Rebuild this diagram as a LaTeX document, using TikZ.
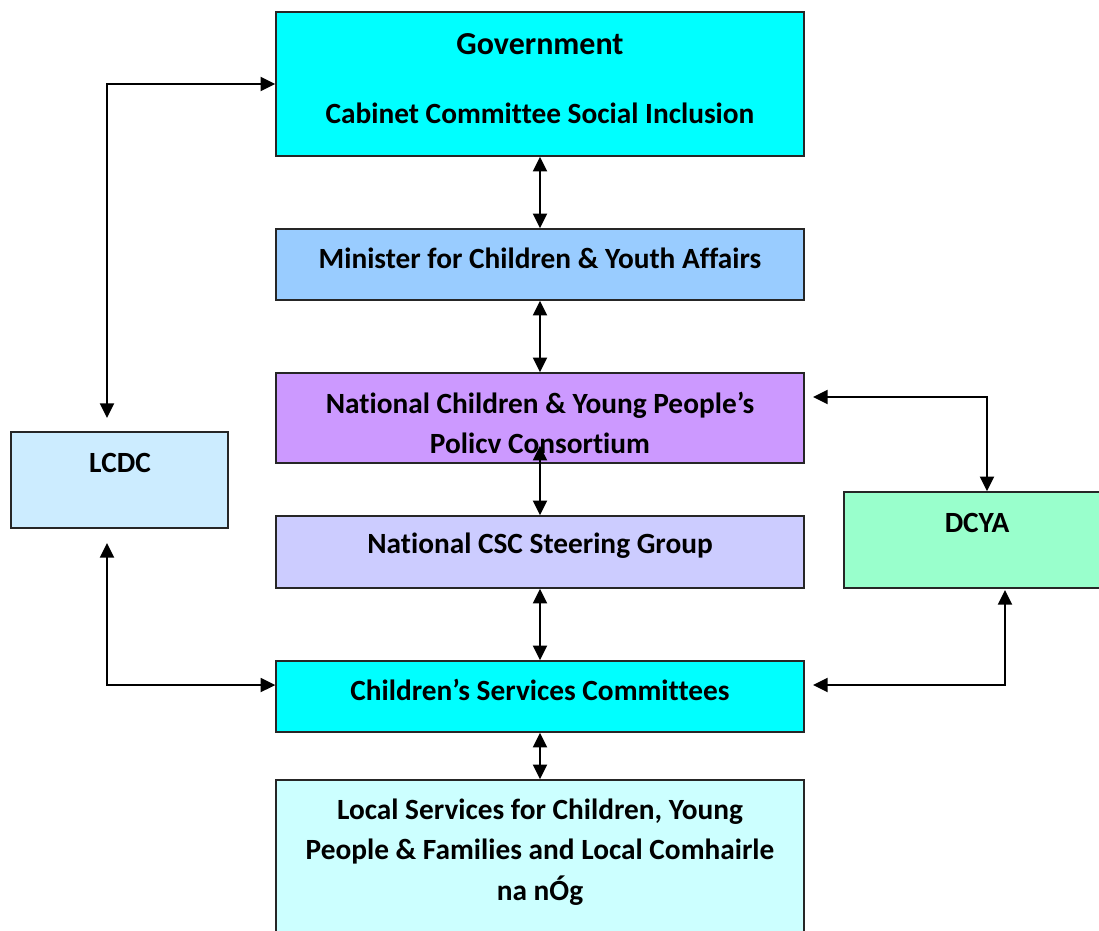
\documentclass[tikz,border=0pt]{standalone}
\usepackage{fontspec}
\setmainfont{Carlito}[Ligatures=NoCommon]
\usetikzlibrary{arrows.meta}
\definecolor{govcyan}{HTML}{00FFFF}
\definecolor{minblue}{HTML}{99CCFF}
\definecolor{ncyplilac}{HTML}{CC99FF}
\definecolor{cscviolet}{HTML}{CCCCFF}
\definecolor{localcyan}{HTML}{CCFFFF}
\definecolor{lcdcblue}{HTML}{CCECFF}
\definecolor{dcyagreen}{HTML}{99FFCC}
\tikzset{
  box/.style={draw=black!85,line width=1.1pt,inner sep=0pt,minimum width=396pt},
  lbl/.style={font=\fontsize{22}{30.5}\selectfont\bfseries,align=center,inner sep=0pt},
  dbl/.style={line width=1.5pt,{Triangle[length=11pt,width=10.5pt]}-{Triangle[length=11pt,width=10.5pt]}}
}
\begin{document}
\begin{tikzpicture}[x=0.75pt,y=-0.75pt,line join=miter]
            \clip (0,0) rectangle (1099,931);
            \useasboundingbox (0,0) rectangle (1099,931);
            \node[box,fill=govcyan,minimum height=108pt] (gov) at (540,84) {};
            \node[box,fill=minblue,minimum height=53.25pt] (min) at (540,264.5) {};
            \node[box,fill=ncyplilac,minimum height=67.5pt] (ncyp) at (540,418) {};
            \node[box,fill=cscviolet,minimum height=54pt] (csc) at (540,552) {};
            \node[box,fill=govcyan,minimum height=53.25pt] (cscom) at (540,696.5) {};
            \node[box,fill=localcyan,minimum height=135pt] (local) at (540,870) {};
            \node[box,fill=lcdcblue,minimum width=162.75pt,minimum height=72pt] (lcdc) at (119.5,480) {};
            \node[box,fill=dcyagreen,minimum width=214.5pt,minimum height=72pt] (dcya) at (987,540) {};
            \node[lbl,font=\fontsize{24}{30}\selectfont\bfseries] (govtxt) at (540,44) {Government};
            \node[lbl] (cabtxt) at (540,113) {Cabinet Committee Social Inclusion};
            \node[lbl] (mintxt) at (540,258) {Minister for Children \& Youth Affairs};
            \node[lbl] (ncyptxt) at (540,423) {National Children \& Young People’s\\Policv Consortium};
            \node[lbl] (csctxt) at (540,546) {National CSC Steering Group};
            \node[lbl] (cscomtxt) at (540,690) {Children’s Services Committees};
            \node[lbl] (localtxt) at (540,852) {Local Services for Children, Young\\People \& Families and Local Comhairle\\na nÓg};
            \node[lbl] (lcdctxt) at (120,463) {LCDC};
            \node[lbl] (dcyatxt) at (977,523) {DCYA};
            \coordinate (lcdctop) at (107,418);
            \coordinate (lcdcbot) at (107,543);
            \coordinate (ncypright) at (813,397);
            \coordinate (cscomright) at (813,685);
            \coordinate (dcyabot) at (1005,590);
            \draw[dbl] (gov.south) -- (min.north);
            \draw[dbl] (min.south) -- (ncyp.north);
            \draw[dbl] ([yshift=13.5pt]ncyp.south) -- (csc.north);
            \draw[dbl] (csc.south) -- (cscom.north);
            \draw[dbl] (cscom.south) -- (local.north);
            \draw[dbl] (lcdctop) |- (gov.west);
            \draw[dbl] (lcdcbot) |- ([yshift=8.6pt]cscom.west);
            \draw[dbl] (ncypright) -| (dcya.north);
            \draw[dbl] (dcyabot) |- (cscomright);
        \end{tikzpicture}
\end{document}
